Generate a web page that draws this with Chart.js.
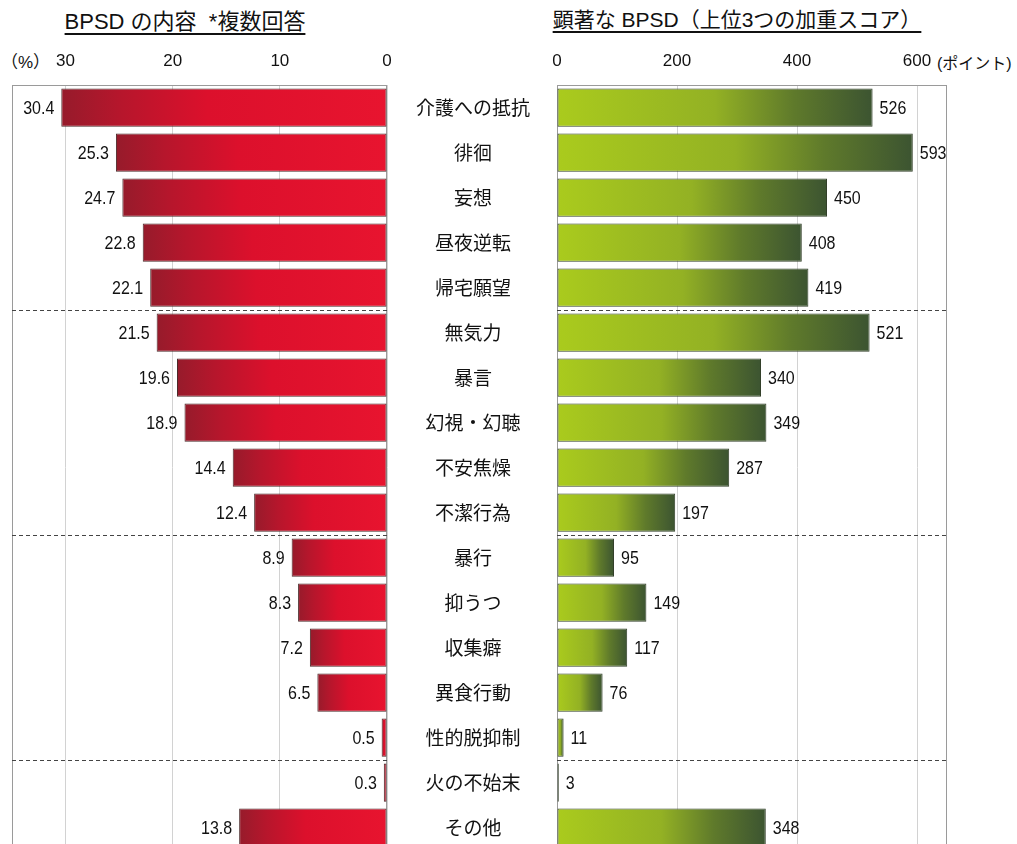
<!DOCTYPE html>
<html>
<head>
<meta charset="utf-8">
<script src="https://cdn.jsdelivr.net/npm/chart.js@4.4.1/dist/chart.umd.min.js"></script>
<style>
  body { margin: 0; background: #fff; overflow: hidden; font-family: "Liberation Sans", "Noto Sans CJK JP", sans-serif; color: #111; }
  #wrap { position: relative; width: 1017px; height: 844px; overflow: hidden; }
  canvas { position: absolute; top: 0; }
  .title { position: absolute; top: 3px; text-decoration: underline; text-underline-offset: 4px; white-space: nowrap; transform: translateX(-50%); }
  .unit { position: absolute; top: 48px; white-space: nowrap; }
</style>
</head>
<body>
<div id="wrap">
  <div class="title" style="left:185px;font-size:22px">BPSD の内容&nbsp; *複数回答</div>
  <div class="title" style="left:737px;font-size:21px">顕著な BPSD（上位3つの加重スコア）</div>
  <div class="unit" style="left:1px;font-size:17px">（%）</div>
  <div class="unit" style="left:937px;font-size:16px;top:50px">(ポイント)</div>
  <canvas id="leftChart" width="400" height="860" style="left:0"></canvas>
  <canvas id="rightChart" width="632" height="860" style="left:385px"></canvas>
</div>
<script>
// categories shared by both panels
const categories = ["介護への抵抗", "徘徊", "妄想", "昼夜逆転", "帰宅願望", "無気力", "暴言", "幻視・幻聴",
  "不安焦燥", "不潔行為", "暴行", "抑うつ", "収集癖", "異食行動", "性的脱抑制", "火の不始末", "その他"];
// left: BPSD content, multiple answers (%)
const percentValues = [30.4, 25.3, 24.7, 22.8, 22.1, 21.5, 19.6, 18.9, 14.4, 12.4, 8.9, 8.3, 7.2, 6.5, 0.5, 0.3, 13.8];
// right: weighted score of top 3 (points)
const scoreValues = [526, 593, 450, 408, 419, 521, 340, 349, 287, 197, 95, 149, 117, 76, 11, 3, 348];
const percentTicks = [0, 10, 20, 30];
const scoreTicks = [0, 200, 400, 600];
// dashed separators after these category indexes
const groupBreaks = [4, 9, 14];

const numFont = '"Liberation Sans", Arial, sans-serif';

// per-bar gradient, from the value end to the zero end
function barGradient(stops) {
  return function (ctx) {
    const chart = ctx.chart;
    const x = chart.scales.x;
    if (!chart.chartArea || ctx.type !== 'data' || !x) return stops[stops.length - 1][1];
    const x0 = x.getPixelForValue(0);
    let x1 = x.getPixelForValue(ctx.raw);
    if (Math.abs(x1 - x0) < 2) x1 = x0 + (x1 < x0 ? -2 : 2);
    const g = chart.ctx.createLinearGradient(x1, 0, x0, 0);
    stops.forEach(s => g.addColorStop(s[0], s[1]));
    return g;
  };
}

const frame = {
  id: 'frame',
  beforeDatasetsDraw(chart) {
    const { ctx, chartArea: a } = chart;
    ctx.save();
    ctx.strokeStyle = '#9a9a9a';
    ctx.lineWidth = 1;
    ctx.strokeRect(Math.round(a.left) + 0.5, Math.round(a.top) + 0.5, Math.round(a.right - a.left) - 1, Math.round(a.bottom - a.top));
    ctx.restore();
  },
  afterDatasetsDraw(chart) {
    const { ctx, chartArea: a } = chart;
    const y = chart.scales.y;
    ctx.save();
    ctx.strokeStyle = '#444';
    ctx.lineWidth = 1;
    ctx.setLineDash([4, 3]);
    groupBreaks.forEach(b => {
      const py = Math.round(y.getPixelForValue(b + 0.5)) + 0.5;
      ctx.beginPath();
      ctx.moveTo(a.left, py);
      ctx.lineTo(a.right, py);
      ctx.stroke();
    });
    ctx.restore();
  }
};

const valueLabels = {
  id: 'valueLabels',
  afterDatasetsDraw(chart, args, opts) {
    const { ctx } = chart;
    const meta = chart.getDatasetMeta(0);
    const values = chart.data.datasets[0].data;
    ctx.save();
    ctx.font = '16px ' + numFont;
    ctx.fillStyle = '#111';
    ctx.textBaseline = 'middle';
    meta.data.forEach((bar, i) => {
      const text = opts.decimals ? values[i].toFixed(opts.decimals) : String(values[i]);
      let px;
      if (opts.side === 'left') {
        ctx.textAlign = 'right';
        px = Math.min(bar.x, bar.base) - 7;
      } else {
        ctx.textAlign = 'left';
        px = Math.max(bar.x, bar.base) + 7;
      }
      ctx.save();
      ctx.translate(px, bar.y + 1);
      ctx.scale(1, 1.2);
      ctx.fillText(text, 0, 0);
      ctx.restore();
    });
    ctx.restore();
  }
};

function xAxis(max, tickValues, reverse) {
  return {
    position: 'top',
    reverse: reverse,
    min: 0,
    max: max,
    afterBuildTicks: s => { s.ticks = tickValues.map(v => ({ value: v })); },
    afterFit: s => { s.height = 85; },
    grid: { color: '#d2d2d2', drawTicks: false },
    border: { display: false },
    ticks: { padding: 13, color: '#111', font: { size: 17, family: numFont } }
  };
}

new Chart(document.getElementById('leftChart'), {
  type: 'bar',
  data: {
    labels: categories,
    datasets: [{
      data: percentValues,
      backgroundColor: barGradient([[0, '#961b2b'], [0.18, '#b6162c'], [0.45, '#dc102c'], [1, '#e8142f']]),
      borderColor: '#4a2a2a',
      borderWidth: 1,
      borderSkipped: false,
      barPercentage: 0.85,
      categoryPercentage: 1
    }]
  },
  options: {
    indexAxis: 'y',
    responsive: false,
    animation: false,
    devicePixelRatio: 1,
    layout: { padding: { left: 12, right: 13, top: 0, bottom: 10 } },
    scales: {
      x: xAxis(35, percentTicks, true),
      y: { display: false }
    },
    plugins: {
      legend: { display: false },
      tooltip: { enabled: false },
      valueLabels: { side: 'left', decimals: 1 }
    }
  },
  plugins: [frame, valueLabels]
});

new Chart(document.getElementById('rightChart'), {
  type: 'bar',
  data: {
    labels: categories,
    datasets: [{
      data: scoreValues,
      backgroundColor: barGradient([[0, '#3c5431'], [0.25, '#5f7a2b'], [0.5, '#93b124'], [1, '#aacb1d']]),
      borderColor: '#33402a',
      borderWidth: 1,
      borderSkipped: false,
      barPercentage: 0.85,
      categoryPercentage: 1
    }]
  },
  options: {
    indexAxis: 'y',
    responsive: false,
    animation: false,
    devicePixelRatio: 1,
    layout: { padding: { left: 0, right: 70, top: 0, bottom: 10 } },
    scales: {
      x: xAxis(650, scoreTicks, false),
      y: {
        afterFit: s => { s.width = 172; s.paddingTop = 0; s.paddingBottom = 0; },
        grid: { display: false },
        border: { display: false },
        ticks: {
          crossAlign: 'center',
          padding: 19,
          color: '#111',
          font: { size: 19, family: '"Noto Sans CJK JP", sans-serif' }
        }
      }
    },
    plugins: {
      legend: { display: false },
      tooltip: { enabled: false },
      valueLabels: { side: 'right', decimals: 0 }
    }
  },
  plugins: [frame, valueLabels]
});
</script>
</body>
</html>
